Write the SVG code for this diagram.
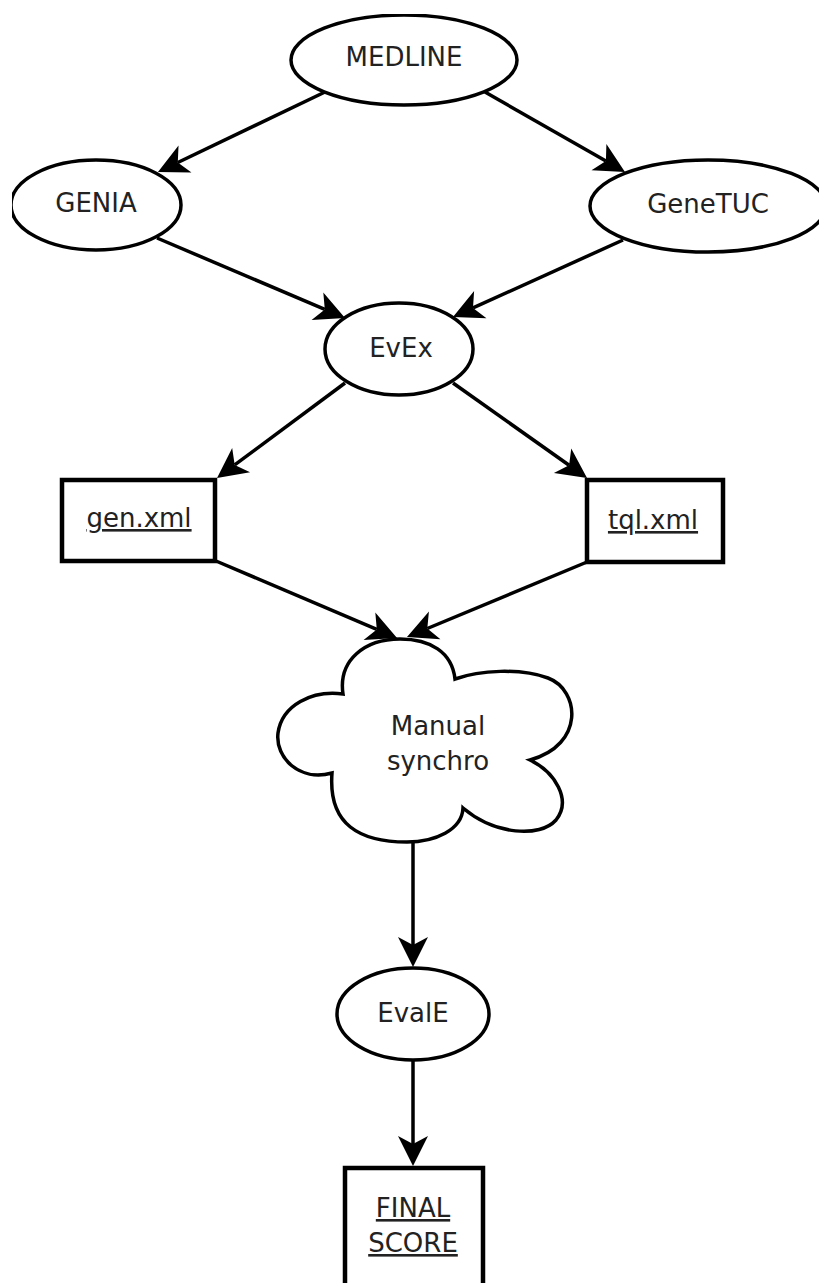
<svg xmlns="http://www.w3.org/2000/svg" width="819" height="1283" viewBox="0 0 819 1283">
<style>
.shape{fill:#fff;stroke:#000;stroke-width:3.5}
.box{fill:#fff;stroke:#000;stroke-width:4.5}
.lbl{font-family:"DejaVu Sans",sans-serif;font-size:26px;fill:#222;text-anchor:middle}
.u{text-decoration:underline}
.edge{fill:none;stroke:#000;stroke-width:3.5;marker-end:url(#arr)}
</style>
<defs>
<marker id="arr" viewBox="0 -16 32 32" refX="8" refY="0" markerWidth="32" markerHeight="32" markerUnits="userSpaceOnUse" orient="auto" overflow="visible">
<path d="M30,0 L0,-15 L8,0 L0,15 Z" fill="#000"/>
</marker>
<clipPath id="page"><rect x="12" y="14" width="807" height="1269"/></clipPath>
</defs>
<rect width="819" height="1283" fill="#fff"/>
<g clip-path="url(#page)">
<g id="connectors">
<path class="edge" d="M325,92 L177.8,162.5"/>
<path class="edge" d="M485,92 L605.9,161.1"/>
<path class="edge" d="M157,238 L324.8,309.4"/>
<path class="edge" d="M623,240 L473,307.9"/>
<path class="edge" d="M345,383 L234.7,464.9"/>
<path class="edge" d="M453,383 L569.1,465.3"/>
<path class="edge" d="M216,561 L376.8,629.4"/>
<path class="edge" d="M587,562 L427.3,628.5"/>
<path class="edge" d="M413,840 L413,945"/>
<path class="edge" d="M413,1060 L413,1144"/>
</g>
<g id="medline">
<ellipse class="shape" cx="404" cy="60" rx="113" ry="45"/>
<text class="lbl" x="404" y="66">MEDLINE</text>
</g>
<g id="genia">
<ellipse class="shape" cx="96" cy="205" rx="85" ry="45"/>
<text class="lbl" x="96" y="212">GENIA</text>
</g>
<g id="genetuc">
<ellipse class="shape" cx="708" cy="206" rx="118" ry="46"/>
<text class="lbl" x="708" y="213">GeneTUC</text>
</g>
<g id="evex">
<ellipse class="shape" cx="399" cy="349" rx="74" ry="46"/>
<text class="lbl" x="401" y="357">EvEx</text>
</g>
<g id="genxml">
<rect class="box" x="62" y="480" width="153" height="81"/>
<text class="lbl u" x="139" y="527">gen.xml</text>
</g>
<g id="tqlxml">
<rect class="box" x="587" y="480" width="136" height="82"/>
<text class="lbl u" x="653" y="529">tql.xml</text>
</g>
<g id="synchro">
<path class="shape" d="M343,694 C338,660 365,639 400,639 C430,639 452,652 455,679 C480,670 520,668 548,678 C580,690 585,745 530,760 C555,772 572,800 556,820 C540,838 495,835 463,808 C462,830 435,842 407,842 C360,842 328,825 332,773 C300,782 275,758 278,733 C282,705 312,690 343,694 Z"/>
<text class="lbl" x="438" y="735">Manual</text>
<text class="lbl" x="438" y="770">synchro</text>
</g>
<g id="evale">
<ellipse class="shape" cx="413" cy="1014" rx="76" ry="46"/>
<text class="lbl" x="413" y="1022">EvalE</text>
</g>
<g id="finalscore">
<rect class="box" x="345" y="1168" width="138" height="130"/>
<text class="lbl u" x="413" y="1217">FINAL</text>
<text class="lbl u" x="413" y="1252">SCORE</text>
</g>
</g>
</svg>
